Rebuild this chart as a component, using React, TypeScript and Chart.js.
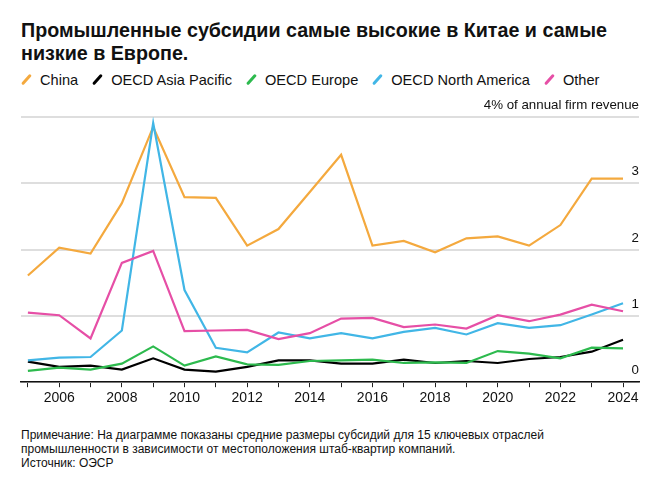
import React, { useEffect, useRef } from "react";
import { Chart, registerables } from "chart.js";

Chart.register(...registerables);

const years = [2005, 2006, 2007, 2008, 2009, 2010, 2011, 2012, 2013, 2014, 2015, 2016, 2017, 2018, 2019, 2020, 2021, 2022, 2023, 2024];

const china = [1.61, 2.03, 1.94, 2.70, 3.85, 2.79, 2.78, 2.06, 2.31, 2.87, 3.43, 2.06, 2.13, 1.96, 2.17, 2.20, 2.06, 2.37, 3.07, 3.07];
const oecdAsiaPacific = [0.31, 0.23, 0.25, 0.19, 0.36, 0.19, 0.16, 0.23, 0.33, 0.33, 0.28, 0.28, 0.34, 0.29, 0.32, 0.29, 0.35, 0.38, 0.46, 0.64];
const oecdEurope = [0.17, 0.22, 0.19, 0.28, 0.54, 0.25, 0.39, 0.27, 0.26, 0.32, 0.33, 0.34, 0.29, 0.30, 0.29, 0.47, 0.43, 0.36, 0.52, 0.51];
const oecdNorthAmerica = [0.33, 0.37, 0.38, 0.78, 3.91, 1.39, 0.52, 0.45, 0.75, 0.66, 0.74, 0.66, 0.76, 0.82, 0.72, 0.89, 0.82, 0.86, 1.02, 1.19];
const other = [1.05, 1.01, 0.66, 1.80, 1.98, 0.77, 0.78, 0.79, 0.65, 0.74, 0.96, 0.97, 0.83, 0.87, 0.81, 1.01, 0.92, 1.02, 1.17, 1.07];

const seriesNames = ["China", "OECD Asia Pacific", "OECD Europe", "OECD North America", "Other"];
const seriesValues = [china, oecdAsiaPacific, oecdEurope, oecdNorthAmerica, other];
const seriesColors = ["#F4A93E", "#000000", "#2DBA4E", "#41B6E6", "#E64FA6"];

const yTicks = [0, 1, 2, 3, 4];
const yTopLabel = "4% of annual firm revenue";

const title1 = "Промышленные субсидии самые высокие в Китае и самые";
const title2 = "низкие в Европе.";
const note1 = "Примечание: На диаграмме показаны средние размеры субсидий для 15 ключевых отраслей";
const note2 = "промышленности в зависимости от местоположения штаб-квартир компаний.";
const source = "Источник: ОЭСР";

const FONT = "'Liberation Sans', Arial, Helvetica, sans-serif";

export default function App() {
  const ref = useRef<HTMLCanvasElement | null>(null);

  useEffect(() => {
    if (!ref.current) return;
    const chart = new Chart(ref.current, {
      type: "line",
      data: {
        datasets: seriesNames.map((name, i) => ({
          label: name,
          data: years.map((yr, j) => ({ x: yr, y: seriesValues[i][j] })),
          borderColor: seriesColors[i],
          backgroundColor: seriesColors[i],
          borderWidth: 2.2,
          pointRadius: 0,
          tension: 0,
          fill: false,
          order: seriesNames.length - i,
        })),
      },
      options: {
        responsive: false,
        maintainAspectRatio: false,
        animation: false,
        layout: { padding: { left: 21, right: 29, top: 27, bottom: 10 } },
        plugins: { legend: { display: false }, tooltip: { enabled: false } },
        scales: {
          x: {
            type: "linear",
            min: 2004.78,
            max: 2024.51,
            afterBuildTicks: (scale: any) => {
              scale.ticks = years.map((v) => ({ value: v }));
            },
            border: { display: true, color: "#111", width: 1.5 },
            grid: { display: true, drawOnChartArea: false, drawTicks: true, tickLength: 5, color: "#222", lineWidth: 1 },
            ticks: {
              autoSkip: false,
              maxRotation: 0,
              padding: 3,
              color: "#111",
              font: { family: FONT, size: 14 },
              callback: (v: any) => (Number(v) % 2 === 0 ? String(v) : ""),
            },
          },
          y: {
            position: "right",
            min: 0,
            max: 4,
            afterBuildTicks: (scale: any) => {
              scale.ticks = yTicks.map((v) => ({ value: v }));
            },
            border: { display: false },
            grid: { color: "#dedede", lineWidth: 2, drawTicks: false },
            ticks: {
              mirror: true,
              padding: 0,
              labelOffset: -11.5,
              color: "#111",
              font: { family: FONT, size: 13.3 },
              callback: (v: any) => (Number(v) === 4 ? yTopLabel : String(v)),
            },
          },
        },
      },
    });
    return () => chart.destroy();
  }, []);

  return (
    <div style={{ position: "absolute", left: 0, top: 0, width: 668, height: 488, background: "#fff", fontFamily: FONT, color: "#111" }}>
      <div style={{ position: "absolute", left: 21, top: 19, fontSize: 19.7, fontWeight: "bold", lineHeight: "23px", whiteSpace: "nowrap" }}>
        {title1}
        <br />
        {title2}
      </div>
      <div style={{ position: "absolute", left: 21, top: 71, height: 18, display: "flex", alignItems: "center", fontSize: 14.6, whiteSpace: "nowrap" }}>
        {seriesNames.map((name, i) => (
          <div key={name} style={{ display: "flex", alignItems: "center", marginRight: 14 }}>
            <span style={{ display: "inline-block", width: 11, height: 14, position: "relative", marginRight: 8 }}>
              <span style={{ position: "absolute", left: 4, top: 0, width: 2.8, height: 13, borderRadius: 1.5, background: seriesColors[i], transform: "rotate(42deg)" }} />
            </span>
            <span>{name}</span>
          </div>
        ))}
      </div>
      <canvas ref={ref} width={668} height={330} style={{ position: "absolute", left: 0, top: 90, width: 668, height: 330 }} />
      <div style={{ position: "absolute", left: 21, top: 428, fontSize: 12, lineHeight: "14px", whiteSpace: "nowrap" }}>
        {note1}
        <br />
        {note2}
        <br />
        {source}
      </div>
    </div>
  );
}
